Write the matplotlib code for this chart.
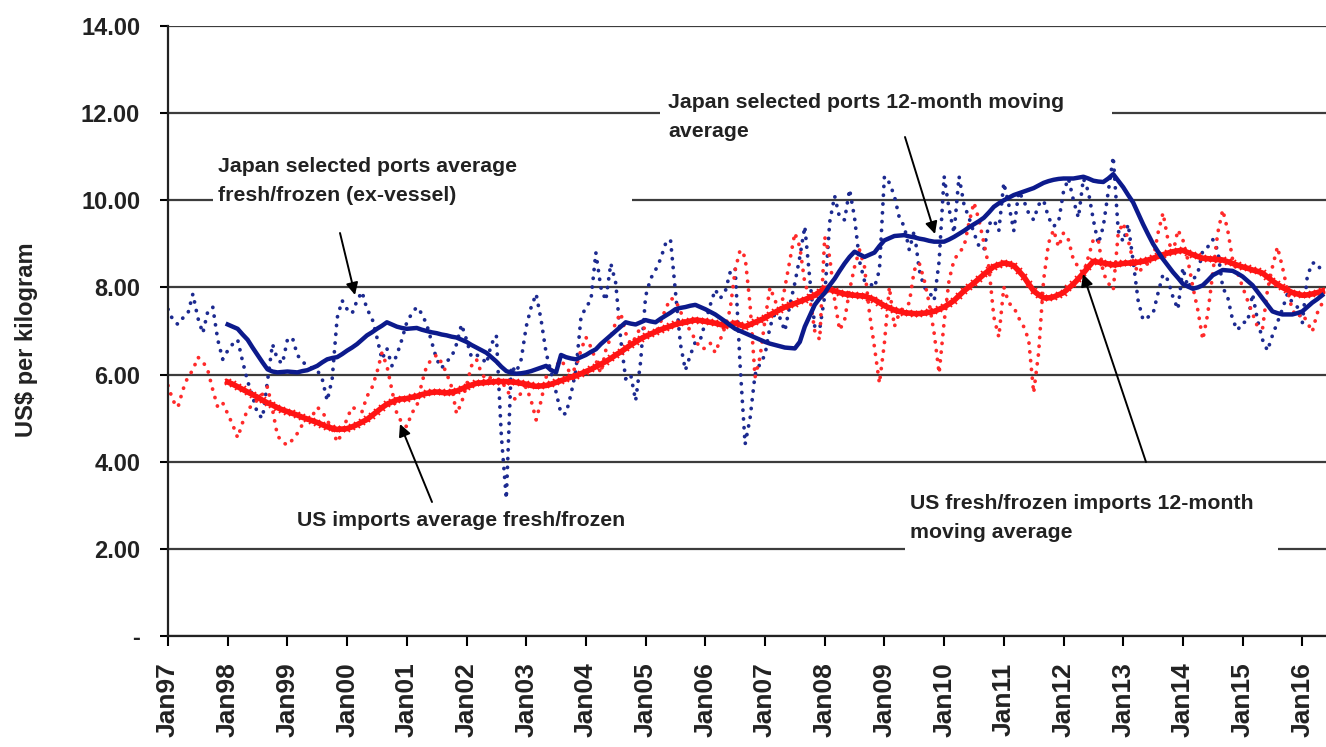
import numpy as np
import matplotlib
matplotlib.use("Agg")
import matplotlib.pyplot as plt
from matplotlib.patches import Rectangle

W, H = 1326, 747

# monthly series, Jan97 .. May16
japan_monthly = [
    7.50, 7.25, 7.15, 7.30, 7.40, 7.85, 7.30, 6.95, 7.45, 7.55, 6.80, 6.35,
    6.55, 6.70, 6.80, 6.30, 5.85, 5.50, 5.10, 5.00, 5.85, 6.70, 6.35, 6.25,
    6.80, 6.85, 6.45, 6.30, 6.20, 6.15, 6.10, 5.90, 5.40, 5.90, 7.30, 7.70,
    7.50, 7.40, 7.70, 7.90, 7.50, 7.30, 6.85, 6.35, 6.60, 6.20, 6.45, 6.80,
    7.20, 7.40, 7.55, 7.40, 7.15, 6.75, 6.35, 6.15, 6.30, 6.40, 6.70, 7.15,
    6.80, 6.40, 6.45, 6.40, 6.25, 6.70, 6.90, 4.60, 3.15, 6.20, 6.05, 6.35,
    7.10, 7.55, 7.85, 7.25, 6.50, 6.05, 5.60, 5.10, 5.10, 5.55, 6.10, 7.30,
    7.55, 7.70, 8.80, 8.00, 7.70, 8.55, 8.10, 6.80, 5.90, 6.00, 5.40, 6.30,
    7.80, 8.20, 8.40, 8.65, 9.00, 9.10, 7.90, 6.70, 6.10, 6.45, 6.75, 6.80,
    7.20, 7.60, 7.95, 7.75, 7.90, 8.35, 8.45, 6.20, 4.40, 5.00, 6.00, 6.25,
    6.45, 7.10, 7.40, 7.30, 7.00, 7.60, 8.10, 8.70, 9.40, 8.20, 7.10, 7.05,
    7.80, 9.50, 10.10, 9.60, 9.55, 10.25, 9.60, 8.60, 8.15, 8.10, 8.00, 8.40,
    10.55, 10.40, 10.10, 9.60, 9.40, 8.86, 9.30, 8.40, 8.00, 7.90, 7.70, 8.60,
    10.55, 9.80, 9.25, 10.55, 9.90, 9.60, 9.25, 8.95, 8.86, 9.45, 9.55, 9.30,
    10.40, 9.90, 9.30, 10.20, 10.00, 9.70, 9.55, 9.90, 10.00, 9.60, 9.40, 9.50,
    10.20, 10.50, 10.00, 9.60, 10.50, 10.20, 9.55, 9.00, 9.40, 10.20, 11.00, 9.30,
    9.05, 9.45, 8.60, 7.70, 7.25, 7.32, 7.40, 7.87, 8.30, 8.17, 7.78, 7.50,
    8.45, 8.00, 8.17, 8.33, 8.85, 8.93, 9.10, 8.85, 8.00, 7.78, 7.25, 7.02,
    7.20, 7.20, 7.85, 7.25, 6.80, 6.55, 6.90, 7.20, 7.50, 7.85, 7.65, 7.55,
    7.18, 8.25, 8.56, 8.56, 8.33,
]

us_monthly = [
    5.75, 5.40, 5.25, 5.65, 5.95, 6.10, 6.40, 6.30, 6.10, 5.65, 5.25, 5.35,
    5.10, 4.85, 4.55, 4.90, 5.20, 5.30, 5.42, 5.55, 5.72, 5.20, 4.60, 4.45,
    4.38, 4.50, 4.65, 4.85, 4.95, 5.05, 5.25, 5.15, 4.95, 4.75, 4.45, 4.65,
    5.00, 5.25, 5.20, 5.15, 5.50, 5.70, 6.05, 6.50, 6.20, 5.65, 5.10, 4.90,
    4.80, 5.12, 5.26, 5.80, 6.20, 6.35, 6.45, 6.27, 6.03, 5.72, 5.10, 5.35,
    5.75, 6.20, 6.35, 6.03, 5.88, 5.94, 5.90, 5.88, 5.65, 5.50, 5.42, 5.58,
    5.72, 5.40, 4.96, 5.40, 5.94, 6.10, 6.20, 6.33, 6.17, 6.03, 6.17, 6.56,
    6.86, 6.63, 6.33, 6.03, 6.56, 6.86, 7.20, 7.41, 6.95, 6.70, 6.85, 7.10,
    7.05, 6.95, 6.95, 7.20, 7.50, 7.75, 7.71, 7.45, 7.20, 7.00, 6.80, 6.60,
    6.60, 6.72, 6.50, 6.80, 7.10, 7.50, 8.40, 8.86, 8.70, 7.60, 5.94, 6.40,
    7.25, 8.00, 7.71, 7.41, 8.00, 8.63, 9.25, 8.93, 8.10, 7.78, 7.00, 6.80,
    9.16, 8.70, 7.71, 7.02, 7.25, 7.94, 8.47, 8.86, 8.47, 7.41, 6.63, 5.80,
    6.72, 8.01, 7.10, 7.41, 7.55, 7.64, 8.40, 8.56, 8.17, 7.64, 6.95, 6.03,
    7.20, 8.17, 8.63, 8.80, 8.93, 9.48, 9.95, 9.55, 9.02, 8.47, 7.32, 6.86,
    8.01, 7.64, 7.55, 7.30, 7.10, 6.80, 5.58, 6.50, 8.17, 9.02, 9.32, 8.93,
    9.25, 9.09, 8.63, 8.47, 8.33, 8.70, 9.10, 9.09, 8.33, 8.10, 7.94, 9.25,
    9.48, 9.09, 8.60, 8.33, 8.47, 8.55, 8.63, 9.25, 9.71, 9.09, 8.79, 9.32,
    9.09, 8.63, 8.01, 7.48, 6.80, 7.40, 8.33, 9.25, 9.78, 9.32, 8.63, 8.33,
    8.01, 7.70, 7.40, 7.10, 7.05, 7.94, 8.47, 8.93, 8.47, 7.94, 7.48, 7.32,
    7.40, 7.20, 6.98, 7.41, 7.64,
]

# 12-month moving averages, Jan98 .. May16
ma_start = 12
japan_ma = [
    7.15, 7.10, 7.05, 6.92, 6.80, 6.62, 6.45, 6.28, 6.12, 6.07, 6.05, 6.06,
    6.07, 6.06, 6.05, 6.08, 6.10, 6.15, 6.20, 6.28, 6.35, 6.38, 6.40, 6.47,
    6.55, 6.62, 6.70, 6.80, 6.90, 6.97, 7.05, 7.12, 7.20, 7.15, 7.10, 7.07,
    7.05, 7.06, 7.07, 7.03, 7.00, 6.97, 6.95, 6.92, 6.90, 6.87, 6.85, 6.80,
    6.75, 6.68, 6.62, 6.56, 6.50, 6.40, 6.30, 6.18, 6.08, 6.04, 6.02, 6.03,
    6.05, 6.08, 6.12, 6.16, 6.20, 6.10, 6.05, 6.45, 6.40, 6.37, 6.35, 6.40,
    6.45, 6.52, 6.58, 6.70, 6.80, 6.90, 7.00, 7.10, 7.20, 7.17, 7.15, 7.20,
    7.25, 7.22, 7.20, 7.28, 7.35, 7.42, 7.50, 7.53, 7.55, 7.58, 7.60, 7.55,
    7.50, 7.44, 7.38, 7.30, 7.22, 7.13, 7.05, 7.00, 6.95, 6.90, 6.85, 6.80,
    6.75, 6.71, 6.68, 6.65, 6.62, 6.61, 6.60, 6.75, 7.10, 7.35, 7.60, 7.75,
    7.87, 8.05, 8.20, 8.38, 8.55, 8.70, 8.82, 8.76, 8.70, 8.75, 8.80, 8.95,
    9.08, 9.13, 9.18, 9.19, 9.20, 9.17, 9.15, 9.12, 9.10, 9.07, 9.05, 9.05,
    9.05, 9.10, 9.16, 9.23, 9.30, 9.38, 9.45, 9.52, 9.60, 9.72, 9.85, 9.93,
    10.00, 10.06, 10.12, 10.16, 10.20, 10.24, 10.28, 10.34, 10.40, 10.44, 10.47, 10.49,
    10.50, 10.50, 10.50, 10.52, 10.54, 10.50, 10.45, 10.43, 10.42, 10.50, 10.60, 10.45,
    10.30, 10.12, 9.95, 9.70, 9.45, 9.22, 9.00, 8.82, 8.65, 8.50, 8.35, 8.22,
    8.08, 8.02, 7.97, 8.00, 8.05, 8.16, 8.28, 8.34, 8.40, 8.39, 8.38, 8.32,
    8.25, 8.15, 8.05, 7.90, 7.75, 7.60, 7.45, 7.41, 7.38, 7.38, 7.38, 7.41,
    7.45, 7.55, 7.65, 7.73, 7.82,
]

us_ma = [
    5.83, 5.78, 5.72, 5.66, 5.60, 5.54, 5.48, 5.41, 5.35, 5.30, 5.24, 5.19,
    5.15, 5.11, 5.07, 5.02, 4.98, 4.94, 4.90, 4.85, 4.80, 4.77, 4.74, 4.75,
    4.76, 4.80, 4.85, 4.91, 4.97, 5.06, 5.15, 5.24, 5.32, 5.37, 5.42, 5.44,
    5.45, 5.48, 5.50, 5.54, 5.57, 5.59, 5.60, 5.59, 5.58, 5.60, 5.62, 5.67,
    5.72, 5.76, 5.80, 5.81, 5.82, 5.83, 5.84, 5.84, 5.84, 5.83, 5.82, 5.80,
    5.78, 5.75, 5.73, 5.74, 5.75, 5.78, 5.82, 5.86, 5.90, 5.94, 5.97, 6.02,
    6.07, 6.12, 6.18, 6.24, 6.30, 6.37, 6.45, 6.52, 6.60, 6.68, 6.75, 6.82,
    6.88, 6.93, 6.98, 7.03, 7.07, 7.11, 7.15, 7.18, 7.20, 7.23, 7.25, 7.24,
    7.22, 7.20, 7.18, 7.15, 7.12, 7.15, 7.18, 7.14, 7.10, 7.15, 7.20, 7.25,
    7.30, 7.37, 7.43, 7.49, 7.55, 7.59, 7.63, 7.68, 7.72, 7.77, 7.82, 7.90,
    7.98, 7.95, 7.92, 7.88, 7.85, 7.83, 7.82, 7.81, 7.80, 7.76, 7.72, 7.65,
    7.58, 7.53, 7.48, 7.45, 7.42, 7.41, 7.40, 7.40, 7.41, 7.43, 7.45, 7.50,
    7.55, 7.62, 7.70, 7.81, 7.92, 8.01, 8.10, 8.20, 8.30, 8.39, 8.48, 8.52,
    8.56, 8.54, 8.50, 8.38, 8.25, 8.08, 7.92, 7.83, 7.76, 7.76, 7.78, 7.83,
    7.88, 7.98, 8.08, 8.20, 8.33, 8.47, 8.60, 8.58, 8.56, 8.54, 8.52, 8.53,
    8.55, 8.56, 8.56, 8.58, 8.60, 8.63, 8.67, 8.71, 8.75, 8.79, 8.82, 8.84,
    8.85, 8.80, 8.75, 8.71, 8.67, 8.66, 8.65, 8.64, 8.63, 8.59, 8.55, 8.51,
    8.47, 8.44, 8.40, 8.37, 8.33, 8.24, 8.15, 8.07, 8.00, 7.94, 7.88, 7.85,
    7.82, 7.83, 7.85, 7.88, 7.92,
]

year_labels = ["Jan97", "Jan98", "Jan99", "Jan00", "Jan01", "Jan02", "Jan03",
               "Jan04", "Jan05", "Jan06", "Jan07", "Jan08", "Jan09", "Jan10",
               "Jan11", "Jan12", "Jan13", "Jan14", "Jan15", "Jan16"]
y_ticks = [0, 2, 4, 6, 8, 10, 12, 14]
y_tick_labels = ["-", "2.00", "4.00", "6.00", "8.00", "10.00", "12.00", "14.00"]

ARIAL = ["Liberation Sans", "DejaVu Sans"]
INK = "#222222"


def fig_xy(px, py):
    # pixel position (origin top-left) -> figure fraction
    return px / W, 1 - py / H


fig = plt.figure(figsize=(W / 100, H / 100), dpi=100)
ax_left, ax_bottom, ax_top = 168, 636, 26
ax = fig.add_axes([ax_left / W, (H - ax_bottom) / H,
                   (W - ax_left) / W, (ax_bottom - ax_top) / H])
px_per_month = 4.975
ax.set_xlim(0, (W - ax_left) / px_per_month)
ax.set_ylim(0, 14)

months = np.arange(len(japan_monthly))
ma_months = np.arange(ma_start, ma_start + len(japan_ma))

dots = (0, (0.05, 2.3))
ax.plot(months, japan_monthly, color="#1c2a90", lw=2.7, ls=dots,
        dash_capstyle="round", zorder=2)
ax.plot(np.arange(len(us_monthly)), us_monthly, color="#ff2a2a", lw=2.7,
        ls=dots, dash_capstyle="round", zorder=2)
ax.plot(ma_months, us_ma, color="#ff1414", lw=4.0, marker="x", ms=5,
        mew=1.2, zorder=3)
ax.plot(ma_months, japan_ma, color="#0c1a8c", lw=3.2, zorder=4)

# axes styling
ax.set_axisbelow(True)
ax.yaxis.grid(True, color="#3c3c3c", lw=1.6)
for s in ("top", "right"):
    ax.spines[s].set_visible(False)
for s in ("left", "bottom"):
    ax.spines[s].set_linewidth(1.6)
    ax.spines[s].set_color(INK)

ax.set_yticks(y_ticks)
ax.set_yticklabels(y_tick_labels, fontfamily=ARIAL, fontweight="bold",
                   fontsize=17, color=INK)
ax.tick_params(axis="y", direction="out", length=6, width=1.5, pad=14)

ax.set_xticks(np.arange(len(year_labels)) * 12)
ax.set_xticklabels(year_labels, rotation=90, fontfamily=ARIAL,
                   fontweight="bold", fontsize=19, color=INK)
ax.tick_params(axis="x", direction="out", length=7, width=1.5, pad=12)

fig.text(*fig_xy(27, 340), "US$ per kilogram", rotation=90, ha="center",
         va="center", fontfamily=ARIAL, fontweight="bold", fontsize=17,
         color=INK)

# white label boxes that interrupt the gridlines
label_boxes = [(213, 150, 632, 215), (660, 86, 1112, 147),
               (290, 503, 632, 542), (905, 486, 1278, 552)]
for x0, y0, x1, y1 in label_boxes:
    ax.add_patch(Rectangle(fig_xy(x0, y1), (x1 - x0) / W, (y1 - y0) / H,
                           transform=fig.transFigure, facecolor="white",
                           edgecolor="none", zorder=1, clip_on=False))

label_kw = dict(fontfamily=ARIAL, fontweight="bold", fontsize=15.3,
                color=INK, va="top", ha="left", linespacing=1.65, zorder=6)
fig.text(*fig_xy(218, 157), "Japan selected ports average\nfresh/frozen (ex-vessel)",
         **label_kw)
fig.text(*fig_xy(668, 93), "Japan selected ports 12-month moving\naverage",
         **label_kw)
fig.text(*fig_xy(297, 511), "US imports average fresh/frozen", **label_kw)
fig.text(*fig_xy(910, 494), "US fresh/frozen imports 12-month\nmoving average",
         **label_kw)

arrows = [((340, 233), (355, 295)), ((905, 137), (935, 234)),
          ((432, 502), (400, 424)), ((1146, 462), (1083, 274))]
arrow_kw = dict(arrowstyle="-|>", color="black", lw=1.4, mutation_scale=18,
                shrinkA=0, shrinkB=0)
for start, end in arrows:
    ax.annotate("", xy=fig_xy(*end), xytext=fig_xy(*start),
                xycoords="figure fraction", textcoords="figure fraction",
                arrowprops=arrow_kw, zorder=7)

fig.savefig("out.png", dpi=100)
